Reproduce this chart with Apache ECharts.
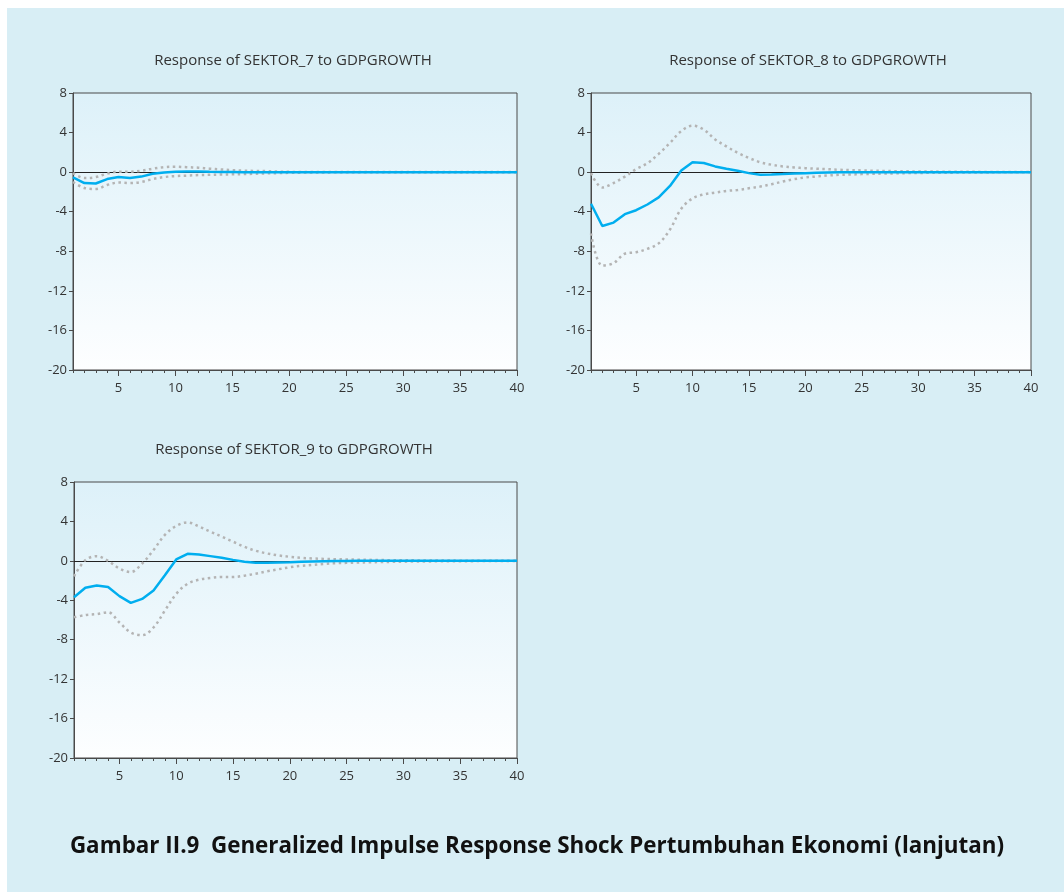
<!DOCTYPE html>
<html>
<head>
<meta charset="utf-8">
<script src="https://cdn.jsdelivr.net/npm/echarts@6/dist/echarts.min.js"></script>
<style>
html,body{margin:0;padding:0;background:#fff;}
#chart{width:1064px;height:892px;}
</style>
</head>
<body>
<div id="chart"></div>
<script>
// ---- Data ----
const periods = [1,2,3,4,5,6,7,8,9,10,11,12,13,14,15,16,17,18,19,20,21,22,23,24,25,26,27,28,29,30,31,32,33,34,35,36,37,38,39,40];
const xTickLabels = [5,10,15,20,25,30,35,40];
const yTicks = [-20,-16,-12,-8,-4,0,4,8];

const titles = [
  'Response of SEKTOR_7 to GDPGROWTH',
  'Response of SEKTOR_8 to GDPGROWTH',
  'Response of SEKTOR_9 to GDPGROWTH'
];
const caption = 'Gambar II.9  Generalized Impulse Response Shock Pertumbuhan Ekonomi (lanjutan)';

// SEKTOR_7
const s7Response = [-0.54,-1.10,-1.15,-0.70,-0.50,-0.60,-0.45,-0.17,-0.03,0.03,0.07,0.07,0.04,0.02,0.01,0.00,-0.01,-0.01,0.00,0.00,0,0,0,0,0,0,0,0,0,0,0,0,0,0,0,0,0,0,0,0];
const s7Upper    = [-0.10,-0.60,-0.50,-0.15,0.05,0.05,0.15,0.35,0.50,0.55,0.50,0.45,0.35,0.27,0.20,0.15,0.12,0.10,0.06,0.03,0.02,0.02,0.01,0.01,0.01,0.01,0.01,0.01,0.01,0.01,0.01,0.01,0.01,0.01,0.01,0.01,0.01,0.01,0.01,0.01];
const s7Lower    = [-1.00,-1.60,-1.70,-1.30,-1.05,-1.10,-1.00,-0.70,-0.50,-0.40,-0.35,-0.30,-0.27,-0.24,-0.22,-0.20,-0.16,-0.12,-0.10,-0.07,-0.05,-0.04,-0.03,-0.02,-0.02,-0.01,-0.01,-0.01,-0.01,-0.01,-0.01,-0.01,-0.01,-0.01,-0.01,-0.01,-0.01,-0.01,-0.01,-0.01];

// SEKTOR_8
const s8Response = [-3.20,-5.45,-5.10,-4.25,-3.85,-3.27,-2.55,-1.40,0.17,1.00,0.92,0.58,0.34,0.14,-0.10,-0.27,-0.24,-0.20,-0.14,-0.10,-0.07,-0.04,-0.02,-0.01,0,0,0,0,0,0,0,0,0,0,0,0,0,0,0,0];
const s8Upper    = [-0.10,-1.55,-1.10,-0.45,0.30,0.90,1.85,2.95,4.15,4.70,4.30,3.30,2.60,1.95,1.43,1.00,0.75,0.58,0.48,0.40,0.34,0.30,0.24,0.20,0.17,0.14,0.12,0.10,0.08,0.07,0.06,0.05,0.04,0.03,0.03,0.02,0.02,0.01,0.01,0.01];
const s8Lower    = [-6.20,-9.45,-9.20,-8.25,-8.10,-7.75,-7.20,-5.80,-3.70,-2.65,-2.25,-2.07,-1.90,-1.80,-1.63,-1.46,-1.22,-0.95,-0.71,-0.54,-0.44,-0.34,-0.27,-0.24,-0.20,-0.17,-0.14,-0.12,-0.10,-0.08,-0.07,-0.06,-0.05,-0.04,-0.03,-0.03,-0.02,-0.02,-0.01,-0.01];

// SEKTOR_9
const s9Response = [-3.70,-2.73,-2.50,-2.66,-3.58,-4.27,-3.86,-3.00,-1.47,0.14,0.72,0.65,0.48,0.31,0.10,-0.10,-0.20,-0.20,-0.17,-0.14,-0.10,-0.07,-0.04,-0.02,-0.01,0,0,0,0,0,0,0,0,0,0,0,0,0,0,0];
const s9Upper    = [-1.57,0.07,0.48,0.00,-0.78,-1.13,-0.27,1.10,2.63,3.55,3.90,3.48,2.97,2.46,1.95,1.43,1.02,0.75,0.55,0.41,0.31,0.24,0.20,0.17,0.14,0.12,0.10,0.08,0.07,0.06,0.05,0.04,0.03,0.03,0.02,0.02,0.01,0.01,0.01,0.01];
const s9Lower    = [-5.73,-5.50,-5.40,-5.22,-6.25,-7.27,-7.54,-6.76,-5.05,-3.35,-2.32,-1.91,-1.74,-1.64,-1.64,-1.50,-1.30,-1.06,-0.85,-0.65,-0.51,-0.41,-0.31,-0.24,-0.20,-0.17,-0.14,-0.12,-0.10,-0.08,-0.07,-0.06,-0.05,-0.04,-0.03,-0.03,-0.02,-0.02,-0.01,-0.01];

const panels = [
  {resp: s7Response, up: s7Upper, lo: s7Lower},
  {resp: s8Response, up: s8Upper, lo: s8Lower},
  {resp: s9Response, up: s9Upper, lo: s9Lower}
];

// ---- Layout ----
const grids = [
  {left: 73, top: 93, width: 444, height: 277},
  {left: 591, top: 93, width: 440, height: 277},
  {left: 74, top: 482, width: 443, height: 276}
];
const titlePos = [[293, 61], [808, 61], [294, 450]];

const FONT = '"Open Sans", "Noto Sans", sans-serif';
const AX = '#4a4a4a';
const TXT = '#333';

const chart = echarts.init(document.getElementById('chart'), null, {renderer: 'canvas'});

const option = {
  backgroundColor: '#ffffff',
  animation: false,
  graphic: [
    {type: 'rect', z: -10, shape: {x: 7, y: 8, width: 1057, height: 884}, style: {fill: '#d8eef5'}},
    ...titles.map((t, i) => ({
      type: 'text', z: 10, x: titlePos[i][0], y: titlePos[i][1],
      style: {text: t, fill: TXT, font: '15px ' + FONT, textAlign: 'center', textVerticalAlign: 'middle'}
    })),
    {type: 'text', z: 10, x: 537, y: 847,
     style: {text: caption, fill: '#111', font: 'bold 22.4px ' + FONT, textAlign: 'center', textVerticalAlign: 'middle'}}
  ],
  grid: grids.map(g => ({
    ...g, show: true, borderColor: AX, borderWidth: 1,
    backgroundColor: new echarts.graphic.LinearGradient(0, 0, 0, 1, [
      {offset: 0, color: '#ddf1f9'}, {offset: 1, color: '#fdfeff'}
    ])
  })),
  xAxis: [],
  yAxis: [],
  series: []
};

grids.forEach((g, i) => {
  // major x axis with labels
  option.xAxis.push({
    type: 'value', gridIndex: i, min: 1, max: 40, position: 'bottom',
    axisLine: {show: true, onZero: false, lineStyle: {color: AX, width: 1}},
    axisTick: {show: true, inside: false, length: 6, customValues: xTickLabels, lineStyle: {color: AX}},
    axisLabel: {show: true, customValues: xTickLabels, color: TXT, fontSize: 13, fontFamily: FONT, margin: 12},
    splitLine: {show: false}
  });
  // minor x ticks
  option.xAxis.push({
    type: 'value', gridIndex: i, min: 1, max: 40, position: 'bottom',
    axisLine: {show: false, onZero: false},
    axisTick: {show: true, inside: false, length: 3, customValues: periods, lineStyle: {color: AX}},
    axisLabel: {show: false},
    splitLine: {show: false}
  });
  option.yAxis.push({
    type: 'value', gridIndex: i, min: -20, max: 8, interval: 4,
    axisLine: {show: true, onZero: false, lineStyle: {color: AX, width: 1}},
    axisTick: {show: true, inside: false, length: 4, lineStyle: {color: AX}},
    axisLabel: {show: true, color: TXT, fontSize: 13, fontFamily: FONT, margin: 6},
    splitLine: {show: false}
  });
  const p = panels[i];
  const xi = i * 2;
  const mk = arr => periods.map((x, k) => [x, arr[k]]);
  option.series.push({
    type: 'line', xAxisIndex: xi, yAxisIndex: i, data: mk(p.up), symbol: 'none', smooth: 0.35,
    lineStyle: {color: '#b4b4b4', width: 2.5, type: [2.5, 3.5]}, z: 3, silent: true
  });
  option.series.push({
    type: 'line', xAxisIndex: xi, yAxisIndex: i, data: mk(p.lo), symbol: 'none', smooth: 0.35,
    lineStyle: {color: '#b4b4b4', width: 2.5, type: [2.5, 3.5]}, z: 3, silent: true
  });
  option.series.push({
    type: 'line', xAxisIndex: xi, yAxisIndex: i, data: mk(p.resp), symbol: 'none', smooth: false,
    lineStyle: {color: '#00aeef', width: 2.5}, z: 5, silent: true,
    markLine: {silent: true, symbol: 'none', label: {show: false}, z: 2,
      lineStyle: {color: '#222', width: 1, type: 'solid'}, data: [{yAxis: 0}]}
  });
});

chart.setOption(option);
</script>
</body>
</html>
